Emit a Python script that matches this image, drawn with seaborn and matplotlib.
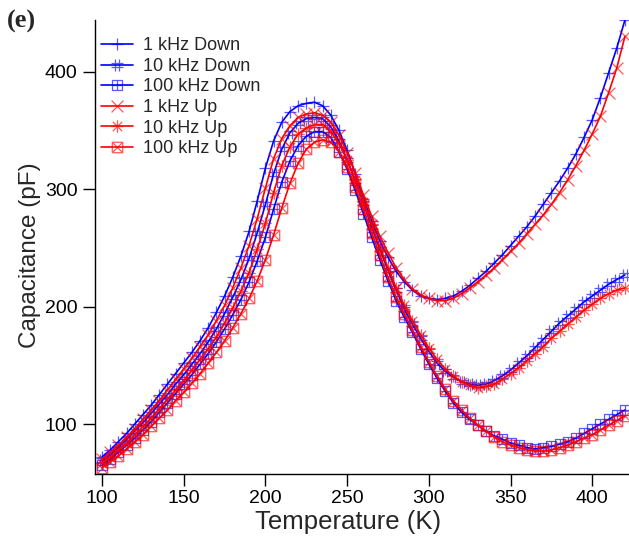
import matplotlib
matplotlib.use("Agg")
import matplotlib.pyplot as plt
import seaborn as sns
import numpy as np
from matplotlib.path import Path

# ---- data ----
temperature = list(range(100, 421, 5))

cap_1k_down = [72, 78, 85, 92, 100, 108, 116, 125, 134, 143,
               152, 161, 171, 182, 195, 209, 225, 243, 264, 290,
               318, 341, 357, 366, 371, 373, 374, 371, 363, 350,
               333, 313, 292, 273, 256, 242, 230, 221, 214, 209,
               207, 206, 207, 209, 213, 218, 224, 230, 237, 244,
               252, 260, 268, 277, 287, 297, 307, 318, 330, 344,
               359, 378, 399, 420, 444]
cap_10k_down = [69, 74, 80, 87, 94, 101, 109, 117, 125, 134,
                142, 151, 160, 170, 181, 194, 208, 223, 241, 263,
                287, 313, 334, 348, 356, 360, 361, 360, 353, 341,
                325, 307, 288, 268, 249, 231, 214, 198, 185, 173,
                162, 152, 145, 140, 136, 134, 133, 134, 137, 141,
                146, 152, 158, 165, 172, 179, 186, 192, 198, 204,
                209, 214, 219, 223, 227]
cap_100k_down = [65, 70, 76, 82, 88, 95, 102, 110, 118, 126,
                 134, 142, 151, 160, 170, 181, 193, 206, 221, 239,
                 259, 283, 306, 324, 337, 345, 349, 349, 344, 332,
                 317, 299, 279, 259, 240, 222, 205, 191, 178, 164,
                 151, 139, 128, 118, 110, 104, 99, 94, 90, 87,
                 84, 82, 80, 79, 80, 81, 83, 85, 88, 92,
                 96, 100, 104, 108, 112]
cap_1k_up = [70, 76, 82, 89, 96, 104, 112, 120, 129, 138,
             147, 156, 166, 176, 188, 201, 216, 233, 252, 275,
             301, 326, 343, 354, 361, 364, 365, 363, 357, 346,
             331, 314, 295, 277, 260, 246, 233, 223, 215, 210,
             207, 205, 205, 207, 211, 216, 221, 227, 233, 240,
             247, 254, 262, 270, 278, 287, 297, 308, 320, 333,
             347, 362, 382, 403, 430]
cap_10k_up = [67, 72, 78, 84, 91, 98, 105, 113, 121, 129,
              137, 146, 155, 164, 174, 186, 199, 213, 229, 249,
              271, 297, 320, 336, 347, 352, 355, 355, 349, 339,
              325, 308, 289, 270, 251, 233, 216, 201, 188, 176,
              165, 155, 147, 141, 136, 133, 131, 132, 134, 138,
              143, 148, 154, 160, 166, 173, 179, 185, 191, 197,
              202, 207, 211, 214, 216]
cap_100k_up = [63, 68, 73, 79, 85, 91, 98, 105, 112, 120,
               127, 135, 143, 152, 161, 171, 182, 194, 207, 222,
               240, 261, 284, 305, 322, 334, 340, 342, 340, 332,
               319, 302, 283, 263, 244, 225, 208, 194, 180, 166,
               153, 141, 130, 120, 112, 105, 99, 94, 89, 85,
               82, 80, 78, 77, 77, 78, 80, 82, 85, 88,
               91, 95, 99, 103, 107]

series_labels = ["1 kHz Down", "10 kHz Down", "100 kHz Down",
                 "1 kHz Up", "10 kHz Up", "100 kHz Up"]
x_ticks = [100, 150, 200, 250, 300, 350, 400]
y_ticks = [100, 200, 300, 400]

# ---- custom line markers ----
M, L = Path.MOVETO, Path.LINETO

def seg_path(segs, square=False):
    verts, codes = [], []
    if square:
        verts += [(-1, -1), (1, -1), (1, 1), (-1, 1), (-1, -1)]
        codes += [M, L, L, L, L]
    for (a, b) in segs:
        verts += [a, b]
        codes += [M, L]
    return Path(verts, codes)

plus_segs = [((-1, 0), (1, 0)), ((0, -1), (0, 1))]
x_segs = [((-1, -1), (1, 1)), ((-1, 1), (1, -1))]
hash_segs = [((-1, -0.3), (1, -0.3)), ((-1, 0.3), (1, 0.3)),
             ((-0.3, -1), (-0.3, 1)), ((0.3, -1), (0.3, 1))]
star_segs = [((-1, 0), (1, 0)), ((-0.75, -0.75), (0.75, 0.75)),
             ((-0.75, 0.75), (0.75, -0.75)), ((0, -1), (0, 1))]

m_plus = seg_path(plus_segs)
m_hash = seg_path(hash_segs)
m_sqplus = seg_path(plus_segs, square=True)
m_x = seg_path(x_segs)
m_star = seg_path(star_segs)
m_sqx = seg_path(x_segs, square=True)

sns.set_style("ticks")
plt.rcParams["font.family"] = ["Liberation Sans", "DejaVu Sans"]

fig = plt.figure(figsize=(6.29, 5.46), dpi=100)
ax = fig.add_axes([95 / 629, (546 - 474) / 546, 534 / 629, 454 / 546])

blue = (0, 0, 1)
red = (1, 0, 0)
specs = [
    (cap_1k_down, blue, m_plus, 9.0),
    (cap_10k_down, blue, m_hash, 9.0),
    (cap_100k_down, blue, m_sqplus, 7.5),
    (cap_1k_up, red, m_x, 8.5),
    (cap_10k_up, red, m_star, 9.0),
    (cap_100k_up, red, m_sqx, 7.5),
]
for (vals, col, mk, ms), lab in zip(specs, series_labels):
    sns.lineplot(x=temperature, y=vals, ax=ax, color=col, linewidth=1.2,
                 marker=mk, markersize=ms, markerfacecolor="none",
                 markeredgecolor=col + (0.65,), markeredgewidth=0.9,
                 label=lab)

ax.set_xlim(95.7, 422.5)
ax.set_ylim(57.5, 444)
ax.set_xticks(x_ticks)
ax.set_yticks(y_ticks)
for s in ["top", "right"]:
    ax.spines[s].set_visible(False)
for s in ["left", "bottom"]:
    ax.spines[s].set_linewidth(1.0)
    ax.spines[s].set_color("black")
ax.tick_params(axis="both", direction="out", length=8.6, width=1.0,
               labelsize=14, colors="black")
ax.tick_params(axis="y", pad=4)
ax.tick_params(axis="x", pad=3)
ax.set_xlabel("Temperature (K)", fontsize=18.5)
ax.set_ylabel("Capacitance (pF)", fontsize=17.5)
# label centres placed as in the reference (pixel -> axes fraction)
ax.xaxis.set_label_coords((348 - 95) / 534, -(522 - 474) / 454)
ax.yaxis.set_label_coords(-(95 - 30) / 534, (474 - 255) / 454)
ax.xaxis.label.set_va("center")
ax.yaxis.label.set_va("center")

leg = ax.legend(loc="upper left", bbox_to_anchor=(0.011, 0.962),
                frameon=False, fontsize=13, handlelength=1.8,
                handletextpad=0.55, labelspacing=0.2, borderpad=0,
                borderaxespad=0)

fig.text(7 / 629, 1 - 10 / 546, "(e)", fontsize=19, fontweight="bold",
         family=["Liberation Serif", "DejaVu Serif"], va="top", ha="left")

fig.savefig("out.png", dpi=100)
